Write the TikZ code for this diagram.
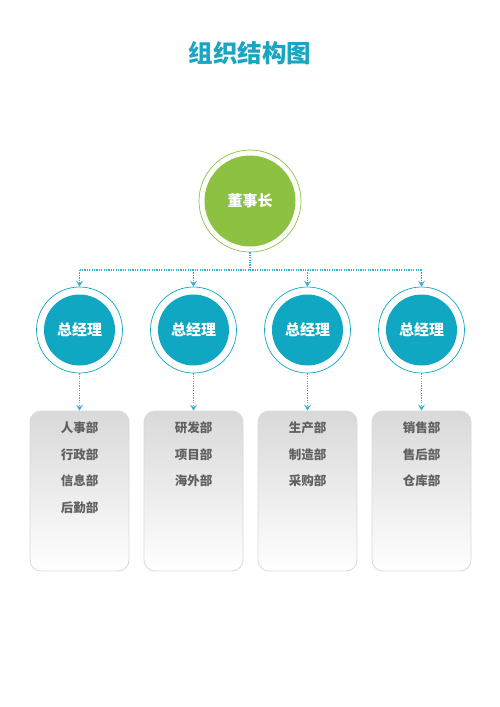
\documentclass[tikz,border=0pt]{standalone}
\usepackage{fontspec}
\setmainfont{Noto Sans CJK SC}
\usetikzlibrary{positioning,arrows.meta}
\definecolor{titleblue}{HTML}{1AA5C0}
\definecolor{boardgreen}{HTML}{8CC142}
\definecolor{mgrteal}{HTML}{0FA7C2}
\definecolor{linkteal}{HTML}{35B2CB}
\definecolor{deptgray}{HTML}{606060}
\tikzset{
  ring/.style n args={2}{circle, draw=#1, line width=0.7pt, inner sep=0pt,
    text=white, path picture={\fill[#1] (path picture bounding box.center) circle (#2);}},
  board/.style={ring={boardgreen}{45.5pt}, minimum size=102pt, font=\fontsize{15}{18}\selectfont\bfseries},
  mgr/.style={ring={mgrteal}{35.5pt}, minimum size=86pt, font=\fontsize{15}{18}\selectfont\bfseries},
  deptbox/.style={draw=gray!30, line width=0.8pt, rounded corners=11pt,
    top color=gray!30, bottom color=white, minimum width=99pt, minimum height=160pt},
  depttxt/.style={text=deptgray, align=center, inner sep=0pt,
    font=\fontsize{12.5}{26.5}\selectfont\bfseries},
  link/.style={draw=linkteal, line width=1.3pt, dash pattern=on 1.3pt off 1.1pt},
  linkarrow/.style={link, -{Stealth[length=6pt,width=7pt,inset=2.5pt,fill=linkteal]}}
}
\begin{document}
\begin{tikzpicture}[x=1pt,y=-1pt]
\useasboundingbox (0,0) rectangle (500,707);
% title
\node[text=titleblue, font=\fontsize{24.5}{28}\selectfont\bfseries] (title) at (250,53) {组织结构图};
% chairman and general managers
\node[board] (dsz) at (250,201) {董事长};
\coordinate (fork) at (250,270);
\node[mgr] (m1) at (79.5,330) {总经理};
\node[mgr] (m2) at (193.5,330) {总经理};
\node[mgr] (m3) at (307.5,330) {总经理};
\node[mgr] (m4) at (421.5,330) {总经理};
% departments
\node[deptbox] (b1) at (79.5,491) {};
\node[deptbox] (b2) at (193.5,491) {};
\node[deptbox] (b3) at (307.5,491) {};
\node[deptbox] (b4) at (421.5,491) {};
\node[depttxt, below=11pt of b1.north] (d1) {人事部\\行政部\\信息部\\后勤部};
\node[depttxt, below=11pt of b2.north] (d2) {研发部\\项目部\\海外部};
\node[depttxt, below=11pt of b3.north] (d3) {生产部\\制造部\\采购部};
\node[depttxt, below=11pt of b4.north] (d4) {销售部\\售后部\\仓库部};
% connectors
\draw[link] (dsz) -- (fork);
\draw[link] (fork -| m1) -- (fork -| m4);
\draw[linkarrow] (fork -| m1) -- (m1);
\draw[linkarrow] (fork -| m2) -- (m2);
\draw[linkarrow] (fork -| m3) -- (m3);
\draw[linkarrow] (fork -| m4) -- (m4);
\draw[linkarrow] (m1) -- (b1);
\draw[linkarrow] (m2) -- (b2);
\draw[linkarrow] (m3) -- (b3);
\draw[linkarrow] (m4) -- (b4);
\end{tikzpicture}
\end{document}
